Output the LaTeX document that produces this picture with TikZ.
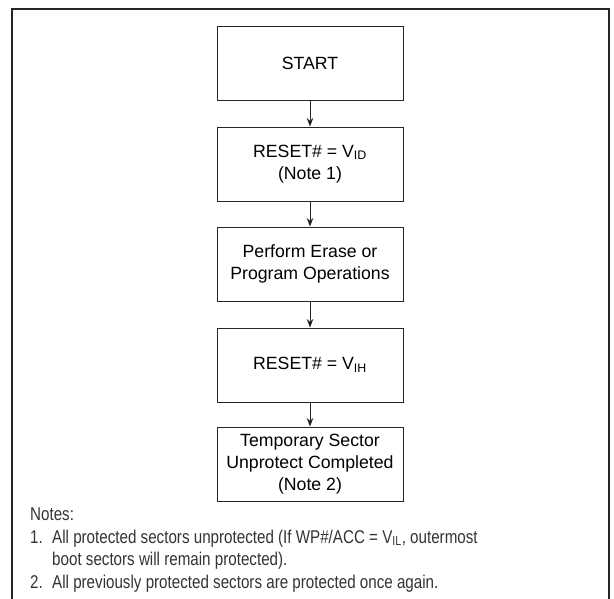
\documentclass[tikz,border=0pt]{standalone}
\usepackage{fontspec}
\setmainfont{Liberation Sans}
\newfontfamily\narrowfont[FakeStretch=0.82]{Liberation Sans}
\usetikzlibrary{arrows.meta}

\begin{document}
\begin{tikzpicture}[x=1pt,y=-1pt,
  stepbox/.style={draw=black!85,line width=0.9pt,minimum width=186pt,minimum height=74pt,
    align=center,inner sep=2pt,font=\fontsize{17.7}{22}\selectfont},
  note/.style={anchor=base west,inner sep=0pt,text=black!80,font=\narrowfont\fontsize{18.5}{22}\selectfont}]
\useasboundingbox (0,0) rectangle (614,599);

% outer frame, open at the bottom
\coordinate (fbl) at (12,599);
\coordinate (ftl) at (12,9);
\coordinate (ftr) at (609,9);
\coordinate (fbr) at (609,599);
\draw[line width=1.6pt,black!85] (fbl) -- (ftl) -- (ftr) -- (fbr);

\node[stepbox] (start) at (310,63) {START};
\node[stepbox] (vid) at (310,164) {RESET\# = V\textsubscript{ID}\\(Note 1)};
\node[stepbox] (ops) at (310,264) {Perform Erase or\\Program Operations};
\node[stepbox] (vih) at (310,365) {RESET\# = V\textsubscript{IH}};
\node[stepbox] (done) at (310,464) {Temporary Sector\\Unprotect Completed\\(Note 2)};

\path[-{Stealth[length=8.5pt,width=6.5pt]},line width=0.9pt,draw=black!85]
(start) edge (vid)
(vid) edge (ops)
(ops) edge (vih)
(vih) edge (done);

% notes
\node[note] (notes) at (30,520) {Notes:};
\node[note] (n1) at (30,543) {1.};
\node[note] (n1a) at (52,543) {All protected sectors unprotected (If WP\#/ACC = V\textsubscript{IL}, outermost};
\node[note] (n1b) at (52,565) {boot sectors will remain protected).};
\node[note] (n2) at (30,588) {2.};
\node[note] (n2a) at (52,588) {All previously protected sectors are protected once again.};
\end{tikzpicture}
\end{document}
